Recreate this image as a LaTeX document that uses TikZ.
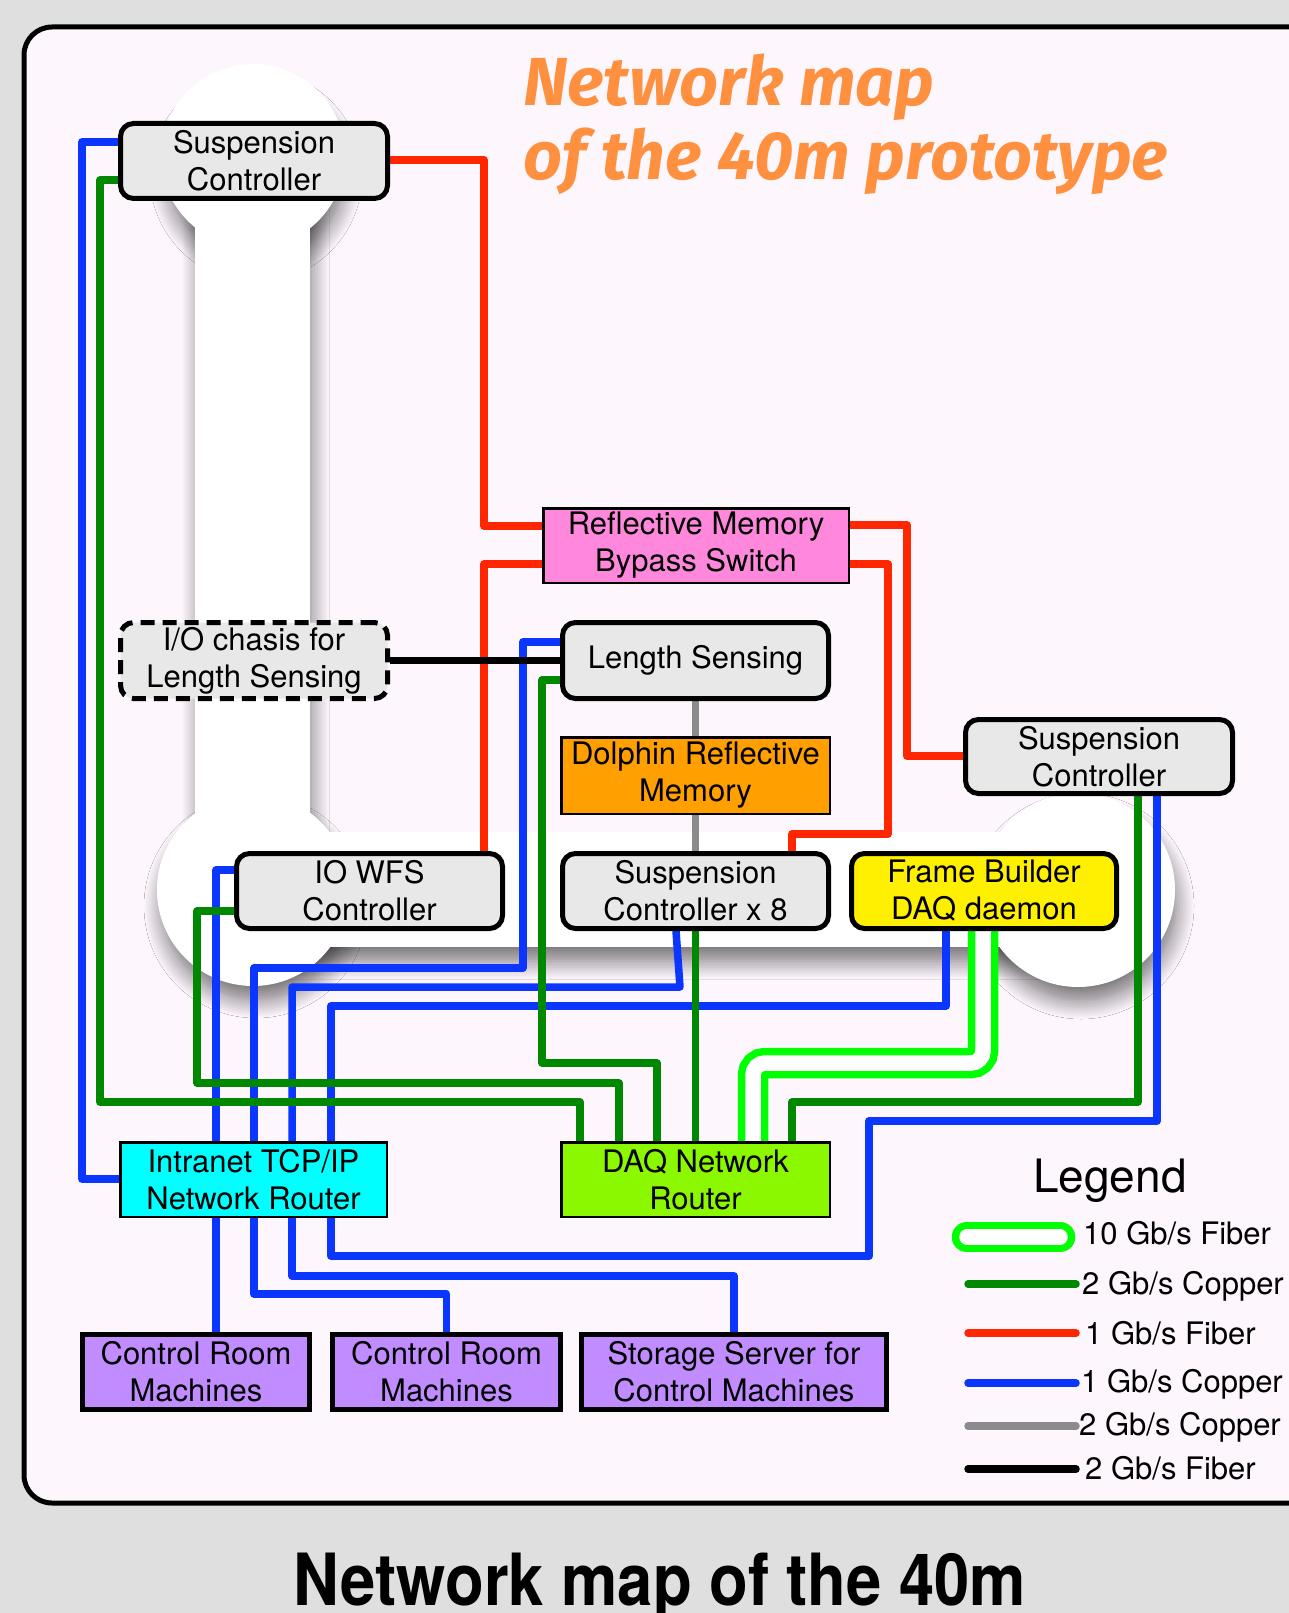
\documentclass[tikz,border=0pt]{standalone}
\usepackage{fontspec}
\setmainfont{TeX Gyre Heros}
\newfontfamily\titlefont{Fira Sans}
\usetikzlibrary{shadows.blur}
\definecolor{bgGray}{HTML}{DFDFDF}
\definecolor{frameFill}{HTML}{FDF6FD}
\definecolor{cBlue}{HTML}{0A36FF}
\definecolor{cDGreen}{HTML}{008800}
\definecolor{cRed}{HTML}{FF2600}
\definecolor{cLGreen}{HTML}{00FF00}
\definecolor{cGray}{HTML}{8C8A8C}
\definecolor{boxGray}{HTML}{E8E8E8}
\definecolor{cPink}{HTML}{FF88DD}
\definecolor{cOrange}{HTML}{FFA000}
\definecolor{cYellow}{HTML}{FFF000}
\definecolor{cCyan}{HTML}{00FFFF}
\definecolor{cLime}{HTML}{8CF800}
\definecolor{cLav}{HTML}{C08CFF}
\definecolor{cTitle}{HTML}{FF9040}
\newcommand\boxfont{\fontsize{31pt}{37pt}\selectfont}
\newcommand\legfont{\fontsize{31pt}{37pt}\selectfont}
\pgfdeclarelayer{bgl}
\pgfdeclarelayer{wires}
\pgfsetlayers{bgl,wires,main}
\tikzset{
  rbox/.style={draw=black, line width=5pt, rounded corners=13pt, fill=boxGray,
    align=center, inner sep=0pt, font=\boxfont},
  sbox/.style={draw=black, line width=2.5pt, align=center, inner sep=0pt, font=\boxfont},
  mbox/.style={draw=black, line width=5pt, fill=cLav, align=center, inner sep=0pt, font=\boxfont},
  wire/.style={line width=7.5pt, line join=round},
  wBlue/.style={wire, draw=cBlue},
  wRed/.style={wire, draw=cRed},
  wGreen/.style={wire, draw=cDGreen},
  wGray/.style={wire, draw=cGray},
  wBlack/.style={wire, draw=black},
  wFiber/.style={line width=7.5pt, draw=cLGreen, double=white, double distance=15.5pt, rounded corners=12pt},
  legtext/.style={anchor=base west, inner sep=0pt, font=\legfont},
  bellshadow/.style={blur shadow={shadow xshift=3pt, shadow yshift=-16pt, shadow blur radius=18pt, shadow blur steps=12, shadow opacity=55}}
}
\begin{document}
\begin{tikzpicture}[x=1pt,y=-1pt]
\useasboundingbox (0,0) rectangle (1289,1613);
\clip (0,0) rectangle (1289,1613);

\begin{pgfonlayer}{bgl}
\fill[bgGray] (0,0) rectangle (1289,1613);
\draw[line width=5pt, fill=frameFill, rounded corners=28pt] (24,27) rectangle (1340,1503);
% dumbbell background
\path[bellshadow] (253,160) circle[radius=88pt];
\path[bellshadow] (197,160) rectangle (308,890);
\path[bellshadow] (253,890) circle[radius=94pt];
\path[bellshadow] (253,834) rectangle (1078,945);
\path[bellshadow] (1078,890) circle[radius=95pt];
\fill[white] (253,156) circle[radius=92pt];
\fill[white] (195,156) rectangle (310,890);
\fill[white] (253,890) circle[radius=96pt];
\fill[white] (253,832) rectangle (1078,947);
\fill[white] (1078,890) circle[radius=97pt];
\end{pgfonlayer}

% title
\node[anchor=base west, inner sep=0pt, text=cTitle, font=\titlefont\bfseries\itshape\fontsize{68pt}{74pt}\selectfont] (t1) at (523,106) {Network map};
\node[anchor=base west, inner sep=0pt, text=cTitle, font=\titlefont\bfseries\itshape\fontsize{68pt}{74pt}\selectfont] (t2) at (523,180) {of the 40m prototype};

% nodes
\node[rbox, minimum width=267pt, minimum height=75pt] (sc1) at (254,161) {Suspension\\Controller};
\node[sbox, fill=cPink, minimum width=305.5pt, minimum height=74.5pt] (rm) at (696,545.5) {Reflective Memory\\Bypass Switch};
\node[rbox, dash pattern=on 14pt off 8pt, minimum width=267pt, minimum height=76pt] (io) at (254,660.5) {I/O chasis for\\Length Sensing};
\node[rbox, minimum width=266pt, minimum height=76pt] (ls) at (695.5,660.5) {Length Sensing};
\node[sbox, fill=cOrange, minimum width=268.5pt, minimum height=76.5pt] (dol) at (695.5,775.5) {Dolphin Reflective\\Memory};
\node[rbox, minimum width=267pt, minimum height=74pt] (sc2) at (1099,756.5) {Suspension\\Controller};
\node[rbox, minimum width=266pt, minimum height=75pt] (wfs) at (369.5,891) {IO WFS\\Controller};
\node[rbox, minimum width=266pt, minimum height=75pt] (sc8) at (695.5,891) {Suspension\\Controller x 8};
\node[rbox, fill=cYellow, minimum width=265pt, minimum height=75pt] (fb) at (984,891) {Frame Builder\\DAQ daemon};
\node[sbox, fill=cCyan, minimum width=266.5pt, minimum height=74.5pt] (ir) at (253.5,1179.5) {Intranet TCP/IP\\Network Router};
\node[sbox, fill=cLime, minimum width=268.5pt, minimum height=74.5pt] (daq) at (695.5,1179.5) {DAQ Network\\Router};
\node[mbox, minimum width=227pt, minimum height=75pt] (cr1) at (196,1372) {Control Room\\Machines};
\node[mbox, minimum width=228pt, minimum height=75pt] (cr2) at (446.5,1372) {Control Room\\Machines};
\node[mbox, minimum width=305pt, minimum height=75pt] (ss) at (734,1372) {Storage Server for\\Control Machines};

% wires
\begin{pgfonlayer}{wires}
% blue
\draw[wBlue] (sc1.west |- 0,142) -- (82,142) -- (82,1179) -- (ir.west |- 0,1179);
\draw[wBlue] (wfs.west |- 0,870) -- (216,870) -- (ir.north -| 216,0);
\draw[wBlue] (ls.west |- 0,642) -- (523,642) -- (523,968) -- (254,968) -- (ir.north -| 254,0);
\draw[wBlue] (sc8.south -| 676,0) -- (680,987) -- (292,987) -- (ir.north -| 292,0);
\draw[wBlue] (fb.south -| 946,0) -- (946,1006) -- (331,1006) -- (ir.north -| 331,0);
\draw[wBlue] (sc2.south -| 1157,0) -- (1157,1121) -- (869,1121) -- (869,1256) -- (331,1256) -- (ir.south -| 331,0);
\draw[wBlue] (ir.south -| 216,0) -- (cr1.north -| 216,0);
\draw[wBlue] (ir.south -| 254,0) -- (254,1294) -- (446.5,1294) -- (cr2.north);
\draw[wBlue] (ir.south -| 292,0) -- (292,1276) -- (734,1276) -- (ss.north);
% red
\draw[wRed] (sc1.east |- 0,160) -- (484,160) -- (484,526) -- (rm.west |- 0,526);
\draw[wRed] (rm.west |- 0,564) -- (484,564) -- (wfs.north -| 484,0);
\draw[wRed] (rm.east |- 0,525) -- (907,525) -- (907,756) -- (sc2.west |- 0,756);
\draw[wRed] (rm.east |- 0,564) -- (888,564) -- (888,834) -- (792,834) -- (sc8.north -| 792,0);
% green
\draw[wGreen] (sc1.west |- 0,180) -- (100,180) -- (100,1102) -- (580,1102) -- (daq.north -| 580,0);
\draw[wGreen] (wfs.west |- 0,911) -- (197,911) -- (197,1083) -- (619,1083) -- (daq.north -| 619,0);
\draw[wGreen] (ls.west |- 0,680) -- (542,680) -- (542,1063) -- (657,1063) -- (daq.north -| 657,0);
\draw[wGreen] (sc8.south) -- (daq.north);
\draw[wGreen] (sc2.south -| 1138,0) -- (1138,1102) -- (792,1102) -- (daq.north -| 792,0);
% fiber
\draw[wFiber] (fb.south -| 983,0) -- (983,1063) -- (753,1063) -- (daq.north -| 753,0);
% gray
\draw[wGray] (ls.south) -- (dol.north);
\draw[wGray] (dol.south) -- (sc8.north);
% black
\draw[wBlack] (io.east) -- (ls.west);
\end{pgfonlayer}

% legend
\node[anchor=base west, inner sep=0pt, font=\fontsize{46pt}{50pt}\selectfont] (leg) at (1033,1192) {Legend};
\draw[wFiber, line cap=round] (967,1237) coordinate (la1) -- (1060,1237) coordinate (la2);
\node[legtext] (l1) at (1083,1244) {10 Gb/s Fiber};
\draw[wGreen, line cap=round] (968,1284) coordinate (lb1) -- (1076,1284) coordinate (lb2);
\node[legtext] (l2) at (1082,1294) {2 Gb/s Copper};
\draw[wRed, line cap=round] (968,1333) coordinate (lc1) -- (1076,1333) coordinate (lc2);
\node[legtext] (l3) at (1085,1344) {1 Gb/s Fiber};
\draw[wBlue, line cap=round] (968,1383) coordinate (ld1) -- (1076,1383) coordinate (ld2);
\node[legtext] (l4) at (1081,1392) {1 Gb/s Copper};
\draw[wGray, line cap=round] (968,1426) coordinate (le1) -- (1076,1426) coordinate (le2);
\node[legtext] (l5) at (1079,1435) {2 Gb/s Copper};
\draw[wBlack, line cap=round] (968,1469) coordinate (lf1) -- (1076,1469) coordinate (lf2);
\node[legtext] (l6) at (1085,1479) {2 Gb/s Fiber};

% bottom caption
\node[anchor=base, inner sep=0pt, font=\bfseries\fontsize{72pt}{76pt}\selectfont] (cap) at (660,1605) {\scalebox{0.88}[1]{Network map of the 40m}};
\end{tikzpicture}
\end{document}
